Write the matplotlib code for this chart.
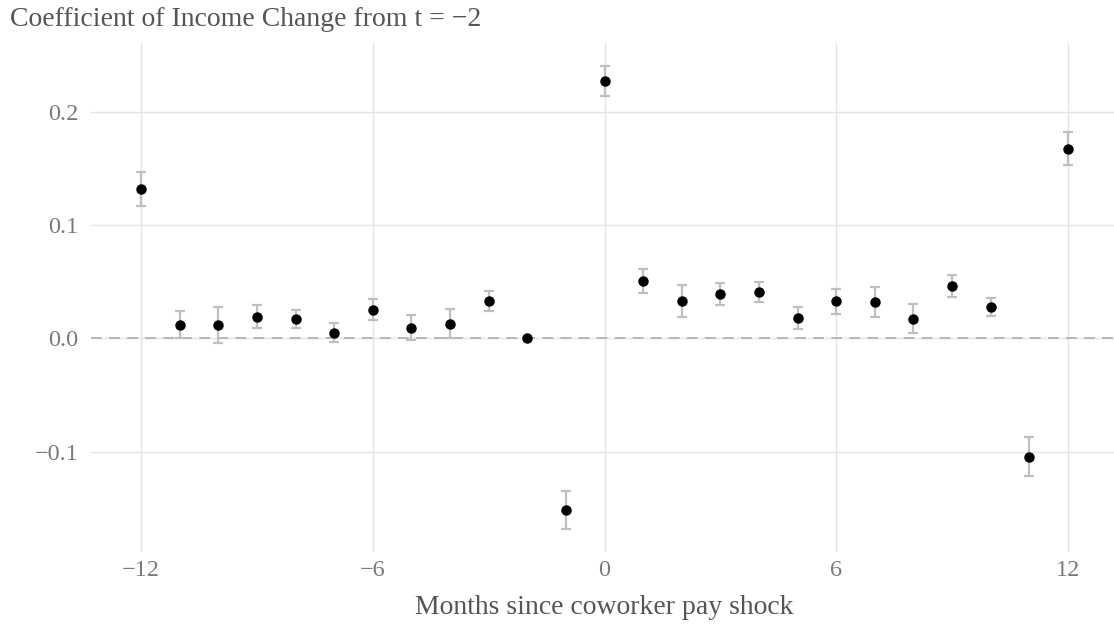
import matplotlib
matplotlib.use("Agg")
import matplotlib.pyplot as plt
import numpy as np

months = [-12, -11, -10, -9, -8, -7, -6, -5, -4, -3, -2, -1, 0, 1, 2, 3, 4, 5, 6, 7, 8, 9, 10, 11, 12]
coef = [0.1315, 0.0121, 0.0115, 0.0191, 0.0171, 0.0050, 0.0250, 0.0094, 0.0126, 0.0329, 0.0, -0.1515,
        0.2268, 0.0504, 0.0333, 0.0388, 0.0406, 0.0177, 0.0327, 0.0318, 0.0174, 0.0465, 0.0276, -0.1042, 0.1668]
ci_low = [0.1163, 0.0000, -0.0041, 0.0091, 0.0091, -0.0035, 0.0159, -0.0012, 0.0000, 0.0244, 0.0, -0.1680,
          0.2135, 0.0398, 0.0192, 0.0292, 0.0318, 0.0082, 0.0218, 0.0185, 0.0047, 0.0368, 0.0197, -0.1218, 0.1530]
ci_high = [0.1468, 0.0241, 0.0280, 0.0294, 0.0253, 0.0135, 0.0344, 0.0203, 0.0256, 0.0418, 0.0, -0.1348,
           0.2400, 0.0610, 0.0474, 0.0486, 0.0495, 0.0274, 0.0438, 0.0453, 0.0303, 0.0562, 0.0356, -0.0874, 0.1815]
xticks = [-12, -6, 0, 6, 12]
yticks = [-0.1, 0.0, 0.1, 0.2]
ytick_labels = ["\u22120.1", "0.0", "0.1", "0.2"]
xtick_labels = ["\u221212", "\u22126", "0", "6", "12"]

plt.rcParams['font.family'] = ['Liberation Serif', 'DejaVu Serif']

W, H = 1114, 624
fig = plt.figure(figsize=(W / 100, H / 100), dpi=100)
left_px, right_px, top_px, bottom_px = 91, 1118, 43, 552
ax = fig.add_axes([left_px / W, 1 - bottom_px / H, (right_px - left_px) / W, (bottom_px - top_px) / H])

x = np.array(months)
c = np.array(coef)
lo = np.array(ci_low)
hi = np.array(ci_high)

ax.axhline(0, color="#b3b3b3", lw=1.3, ls=(0, (6, 4)), zorder=1)
ax.errorbar(x, c, yerr=[c - lo, hi - c], fmt="none", ecolor="#bfbfbf", elinewidth=1.6,
            capsize=3.5, capthick=1.6, zorder=2)
ax.plot(x, c, "o", color="black", markersize=6.5, zorder=3)

ax.set_xlim(-13.3, 13.3)
ax.set_ylim(-0.1884, 0.2604)
ax.set_xticks(xticks)
ax.set_xticklabels(xtick_labels)
ax.set_yticks(yticks)
ax.set_yticklabels(ytick_labels)
ax.grid(True, color="#e5e5e5", lw=1.0)
ax.set_axisbelow(True)
for s in ax.spines.values():
    s.set_visible(False)
ax.tick_params(length=0, labelsize=17.5, colors="#7a7a7a")
ax.tick_params(axis="y", pad=9)
ax.tick_params(axis="x", pad=6)
ax.set_xlabel("Months since coworker pay shock", fontsize=20, color="#555555", labelpad=10)
fig.text(0.009, 1 - 19 / H, "Coefficient of Income Change from t = \u22122", fontsize=20,
         color="#555555", ha="left", va="center")

fig.savefig("out.png", dpi=100)
